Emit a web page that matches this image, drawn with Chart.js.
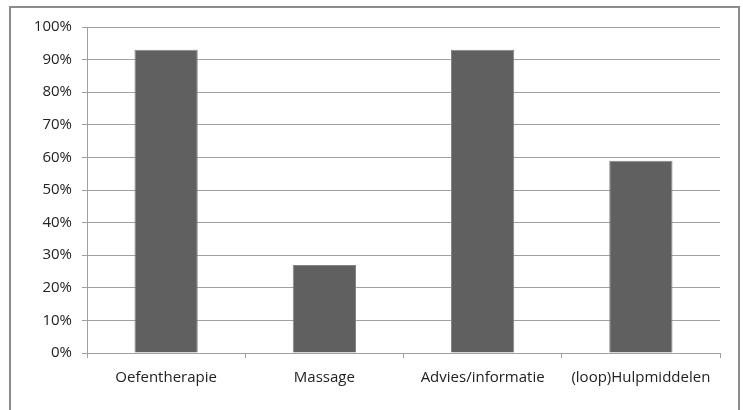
<!DOCTYPE html>
<html>
<head>
<meta charset="utf-8">
<script src="https://cdn.jsdelivr.net/npm/chart.js@4"></script>
<style>
  body { margin: 0; background: #fff; overflow: hidden; }
  #wrap { position: relative; width: 743px; height: 410px; overflow: hidden; }
  #kader { position: absolute; left: 9px; top: 6px; width: 727px; height: 420px; border: 2px solid #8c8c8c; pointer-events: none; }
</style>
</head>
<body>
<div id="wrap">
  <canvas id="chartBehandeling" width="743" height="410"></canvas>
  <div id="kader"></div>
</div>
<script>
const labelsBehandeling = ["Oefentherapie", "Massage", "Advies/informatie", "(loop)Hulpmiddelen"]
const dataBehandeling = [0.93, 0.27, 0.93, 0.59]
const yTicks = [0, 0.1, 0.2, 0.3, 0.4, 0.5, 0.6, 0.7, 0.8, 0.9, 1]

const lettertype = { family: "Open Sans", size: 15 }

// setup
const data = {
    labels: labelsBehandeling,
    datasets: [{
        data: dataBehandeling,
        backgroundColor: '#606060',
        borderColor: '#858585',
        borderWidth: 1,
        categoryPercentage: 1,
        barPercentage: 0.4
    }]
};

// config
const config = {
    type: 'bar',
    data,
    options: {
        responsive: false,
        animation: false,
        layout: {
            padding: { left: 0, top: 27, right: 23, bottom: 17 }
        },
        scales: {
            y: {
                min: 0,
                max: 1,
                afterFit: function (scale) { scale.width = 87 },
                afterBuildTicks: function (scale) {
                    scale.ticks = yTicks.map(v => ({ value: v }))
                },
                border: { color: '#a0a0a0' },
                grid: {
                    color: '#a0a0a0',
                    tickLength: 5
                },
                ticks: {
                    padding: 10,
                    color: '#222',
                    font: lettertype,
                    callback: v => Math.round(v * 100) + '%'
                }
            },
            x: {
                afterFit: function (scale) { scale.height = 40 },
                border: { color: '#a0a0a0' },
                grid: {
                    offset: true,
                    drawOnChartArea: false,
                    color: '#a0a0a0',
                    tickLength: 5
                },
                ticks: {
                    padding: 11,
                    color: '#222',
                    font: lettertype,
                    maxRotation: 0
                }
            }
        },
        plugins: {
            legend: { display: false },
            tooltip: { enabled: false }
        }
    }
};

// render
const myChart = new Chart(
    document.getElementById('chartBehandeling'),
    config
);
</script>
</body>
</html>
